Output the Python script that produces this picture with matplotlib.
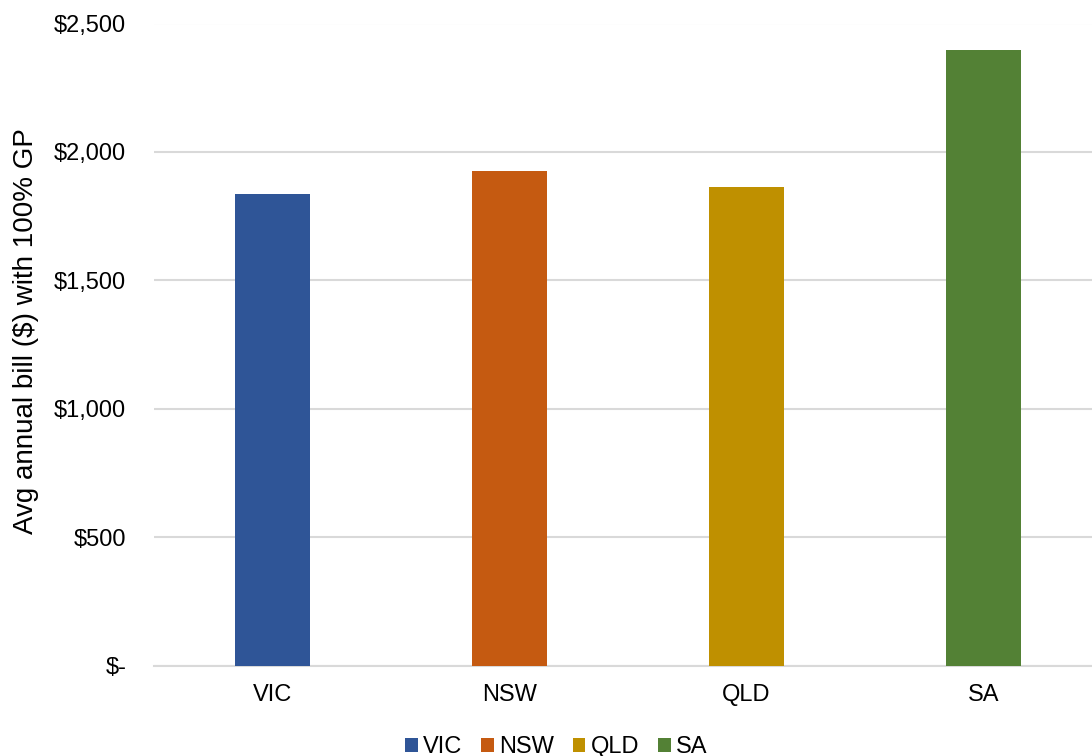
import matplotlib
matplotlib.use("Agg")
import matplotlib.pyplot as plt
from matplotlib.patches import Patch
from matplotlib.ticker import FuncFormatter

plt.rcParams['font.family'] = ['Liberation Sans', 'DejaVu Sans']

# data
states = ["VIC", "NSW", "QLD", "SA"]
bills = [1835, 1925, 1865, 2395]
colours = ["#2f5597", "#c55a11", "#bf9000", "#538135"]
yticks = [0, 500, 1000, 1500, 2000, 2500]

fig = plt.figure(figsize=(10.92, 7.56), dpi=100)
ax = fig.add_axes([154 / 1092, 1 - 665.5 / 756, (1102 - 154) / 1092, (665.5 - 23.5) / 756])

ax.bar(range(len(states)), bills, width=0.316, color=colours, zorder=3)

ax.set_xlim(-0.5, 3.5)
ax.set_ylim(0, 2500)
ax.set_yticks(yticks)

def money(v, pos):
    if v == 0:
        return "$-"
    return "${:,.0f}".format(v)

ax.yaxis.set_major_formatter(FuncFormatter(money))
ax.set_xticks(range(len(states)))
ax.set_xticklabels(states)

ax.grid(axis="y", color="#d9d9d9", linewidth=1.5, zorder=0)
for s in ["top", "right", "left"]:
    ax.spines[s].set_visible(False)
ax.spines["bottom"].set_color("#d9d9d9")
ax.spines["bottom"].set_linewidth(1.5)
ax.tick_params(axis="both", length=0, labelsize=17, colors="black")
ax.tick_params(axis="y", pad=20)
ax.tick_params(axis="x", pad=13)

ax.set_ylabel("Avg annual bill ($) with 100% GP", fontsize=20)
ax.yaxis.set_label_coords(-0.1213, 0.521)

handles = [Patch(facecolor=c, label=s) for c, s in zip(colours, states)]
fig.legend(handles=handles, loc="center", bbox_to_anchor=(556 / 1092, 1 - 747 / 756),
           ncol=4, frameon=False, fontsize=17, handlelength=0.55, handleheight=0.55,
           handletextpad=0.21, columnspacing=0.8, borderpad=0)

fig.savefig("out.png", dpi=100)
